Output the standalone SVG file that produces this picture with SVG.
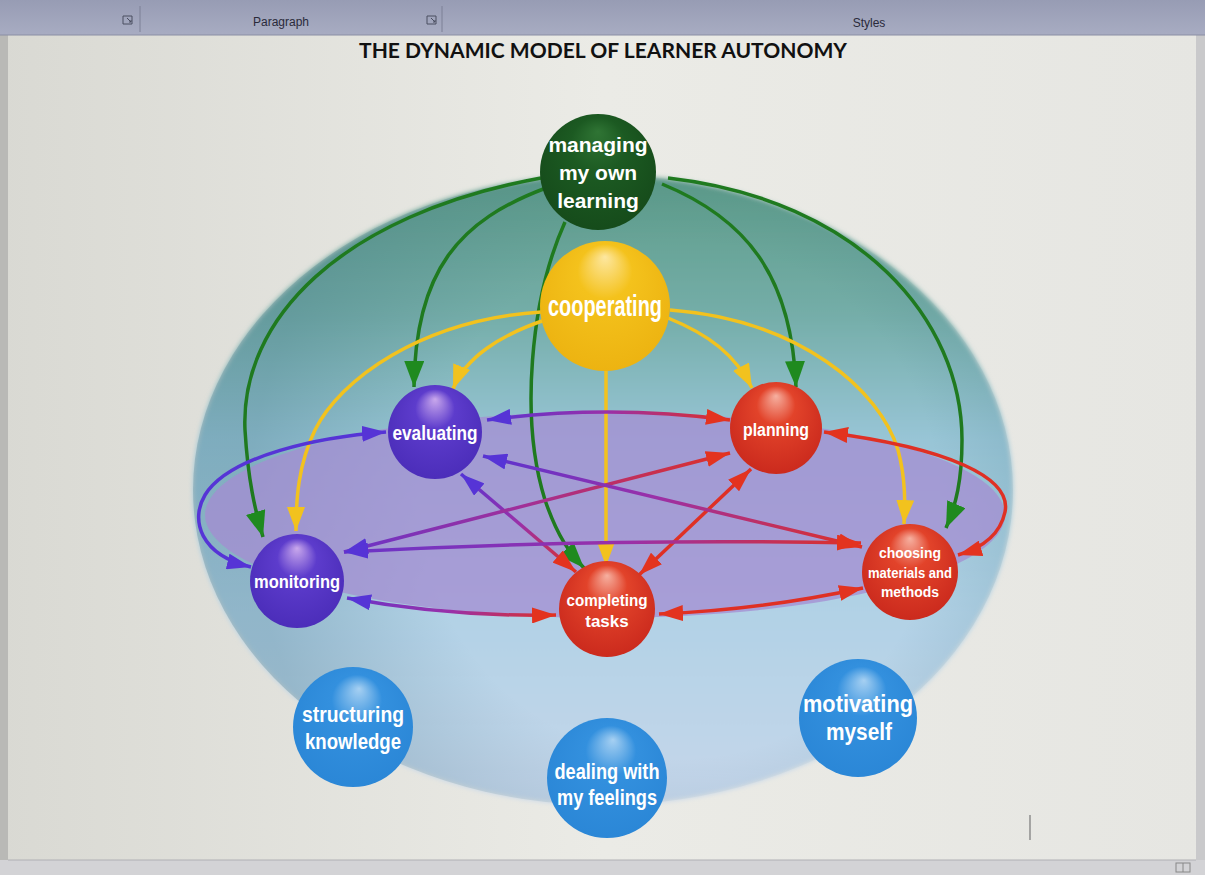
<svg xmlns="http://www.w3.org/2000/svg" width="1205" height="875" viewBox="0 0 1205 875">
<defs>
<style>
.lbl{font-family:"Liberation Sans",Arial,sans-serif;font-weight:bold;fill:#ffffff;text-anchor:middle}
.tb{font-family:"Liberation Sans",Arial,sans-serif;font-size:12px;fill:#2a2a3a;text-anchor:middle}
.g{fill:none;stroke:#1f7a1f;stroke-width:3.5}
.y{fill:none;stroke:#f2c21e;stroke-width:3.5}
.pr{fill:none;stroke-width:3.5}
</style>
<linearGradient id="pageBg" x1="0" y1="0" x2="1" y2="0">
<stop offset="0" stop-color="#d9d9d3"/><stop offset="0.5" stop-color="#ebebe6"/><stop offset="1" stop-color="#e6e6e2"/>
</linearGradient>
<linearGradient id="tbar" x1="0" y1="0" x2="0" y2="1">
<stop offset="0" stop-color="#979cb4"/><stop offset="1" stop-color="#a8acc2"/>
</linearGradient>
<linearGradient id="bigFill" gradientUnits="userSpaceOnUse" x1="0" y1="175" x2="0" y2="805">
<stop offset="0" stop-color="#5d9c88"/><stop offset="0.22" stop-color="#74ada8"/><stop offset="0.42" stop-color="#98c5d6"/><stop offset="0.7" stop-color="#b2d2e6"/><stop offset="1" stop-color="#c6d6ea"/>
</linearGradient>
<radialGradient id="bigShade" gradientUnits="userSpaceOnUse" cx="680" cy="500" r="430">
<stop offset="0.6" stop-color="#3c6e80" stop-opacity="0"/><stop offset="1" stop-color="#3c6e80" stop-opacity="0.28"/>
</radialGradient>
<filter id="soft" x="-5%" y="-5%" width="110%" height="110%"><feGaussianBlur stdDeviation="2.5"/></filter>
<radialGradient id="sRed" cx="50%" cy="45%" r="60%" fx="50%" fy="15%">
<stop offset="0" stop-color="#f6b0a0"/><stop offset="0.35" stop-color="#e2432a"/><stop offset="1" stop-color="#c9281c"/>
</radialGradient>
<radialGradient id="sPur" cx="50%" cy="45%" r="60%" fx="50%" fy="15%">
<stop offset="0" stop-color="#c9a8ec"/><stop offset="0.35" stop-color="#5d3ccc"/><stop offset="1" stop-color="#4a2cb8"/>
</radialGradient>
<radialGradient id="sYel" cx="50%" cy="45%" r="60%" fx="50%" fy="12%">
<stop offset="0" stop-color="#fde7a0"/><stop offset="0.35" stop-color="#f4c21c"/><stop offset="1" stop-color="#ecb210"/>
</radialGradient>
<radialGradient id="sGrn" cx="50%" cy="45%" r="60%" fx="50%" fy="15%">
<stop offset="0" stop-color="#2f7434"/><stop offset="0.4" stop-color="#1c5a22"/><stop offset="1" stop-color="#154a1a"/>
</radialGradient>
<radialGradient id="sBlu" cx="50%" cy="45%" r="60%" fx="55%" fy="18%">
<stop offset="0" stop-color="#a6d0f2"/><stop offset="0.35" stop-color="#3390de"/><stop offset="1" stop-color="#2a86d6"/>
</radialGradient>
<linearGradient id="gP1" gradientUnits="userSpaceOnUse" x1="485" y1="420" x2="730" y2="420"><stop offset="0" stop-color="#5a34d0"/><stop offset="0.5" stop-color="#9a30a8"/><stop offset="1" stop-color="#df3024"/></linearGradient>
<linearGradient id="gP4" gradientUnits="userSpaceOnUse" x1="345" y1="600" x2="558" y2="612"><stop offset="0" stop-color="#6a34c8"/><stop offset="0.5" stop-color="#9a30a8"/><stop offset="1" stop-color="#df3024"/></linearGradient>
<linearGradient id="gD1" gradientUnits="userSpaceOnUse" x1="462" y1="476" x2="578" y2="570"><stop offset="0" stop-color="#5a34d0"/><stop offset="0.5" stop-color="#9a30a8"/><stop offset="1" stop-color="#df3024"/></linearGradient>
<linearGradient id="gD3" gradientUnits="userSpaceOnUse" x1="345" y1="550" x2="730" y2="452"><stop offset="0" stop-color="#6a34c8"/><stop offset="0.45" stop-color="#a02f9a"/><stop offset="1" stop-color="#df3024"/></linearGradient>
<linearGradient id="gD4" gradientUnits="userSpaceOnUse" x1="484" y1="456" x2="862" y2="548"><stop offset="0" stop-color="#5a34d0"/><stop offset="0.45" stop-color="#9a30a8"/><stop offset="1" stop-color="#df3024"/></linearGradient>
<linearGradient id="gD5" gradientUnits="userSpaceOnUse" x1="345" y1="550" x2="862" y2="543"><stop offset="0" stop-color="#6a34c8"/><stop offset="0.55" stop-color="#9a30a8"/><stop offset="1" stop-color="#df3024"/></linearGradient>
<marker id="aG" markerUnits="userSpaceOnUse" markerWidth="26" markerHeight="20" refX="26" refY="10" orient="auto"><path d="M0,0 L26,10 L0,20 z" fill="#1f8a1f"/></marker>
<marker id="aY" markerUnits="userSpaceOnUse" markerWidth="24" markerHeight="18" refX="24" refY="9" orient="auto"><path d="M0,0 L24,9 L0,18 z" fill="#f2c21e"/></marker>
<marker id="aR" markerUnits="userSpaceOnUse" markerWidth="24" markerHeight="16" refX="24" refY="8" orient="auto-start-reverse"><path d="M0,0 L24,8 L0,16 z" fill="#e3331f"/></marker>
<marker id="aP" markerUnits="userSpaceOnUse" markerWidth="24" markerHeight="16" refX="24" refY="8" orient="auto-start-reverse"><path d="M0,0 L24,8 L0,16 z" fill="#5634d6"/></marker>
</defs>

<!-- page background -->
<rect x="0" y="0" width="1205" height="875" fill="url(#pageBg)"/>
<rect x="0" y="0" width="8" height="875" fill="#b9b9b6"/>
<rect x="1196" y="30" width="9" height="845" fill="#c9c9cb"/>
<rect x="0" y="860" width="1205" height="15" fill="#d3d3d6"/>
<line x1="8" y1="860" x2="1196" y2="860" stroke="#b0b0b4" stroke-width="1"/>
<rect x="1176" y="863" width="14" height="9" fill="none" stroke="#888" stroke-width="1"/>
<line x1="1183" y1="863" x2="1183" y2="872" stroke="#888" stroke-width="1"/>

<!-- toolbar -->
<g id="toolbar">
<rect x="0" y="0" width="1205" height="35" fill="url(#tbar)"/>
<line x1="0" y1="35" x2="1205" y2="35" stroke="#8a8ea4" stroke-width="1"/>
<line x1="140" y1="6" x2="140" y2="32" stroke="#7c8096" stroke-width="1"/>
<line x1="442" y1="6" x2="442" y2="32" stroke="#7c8096" stroke-width="1"/>
<path d="M123,16 h9 v8 h-9 z M127,18 l4,4 M131,20 v2 h-2" fill="none" stroke="#4a4e60" stroke-width="1"/>
<path d="M427,16 h9 v8 h-9 z M431,18 l4,4 M435,20 v2 h-2" fill="none" stroke="#4a4e60" stroke-width="1"/>
<text class="tb" x="281" y="26">Paragraph</text>
<text class="tb" x="869" y="27">Styles</text>
</g>

<text x="603" y="58" font-family="Lato,'Liberation Sans',sans-serif" font-weight="bold" font-size="21" fill="#111" text-anchor="middle" textLength="488" lengthAdjust="spacingAndGlyphs">THE DYNAMIC MODEL OF LEARNER AUTONOMY</text>

<!-- big ellipse -->
<g id="sphere">
<ellipse cx="603" cy="490" rx="410" ry="315" fill="url(#bigFill)" filter="url(#soft)"/>
<ellipse cx="603" cy="490" rx="410" ry="315" fill="url(#bigShade)"/>
<ellipse cx="605" cy="515" rx="400" ry="103" fill="#a48cd2" fill-opacity="0.75"/>
</g>

<line x1="1030" y1="815" x2="1030" y2="840" stroke="#777" stroke-width="1.2"/>

<!-- connectors -->
<g id="connectors">
<!-- green from managing -->
<path class="g" d="M541,178 C340,215 240,320 245,430 C248,480 255,510 263,537" marker-end="url(#aG)"/>
<path class="g" d="M546,188 C460,220 415,270 414,387" marker-end="url(#aG)"/>
<path class="g" d="M565,222 C530,300 520,420 545,500 C558,538 570,553 584,568" marker-end="url(#aG)"/>
<path class="g" d="M662,184 C750,220 792,280 796,387" marker-end="url(#aG)"/>
<path class="g" d="M668,178 C860,200 962,320 962,440 C962,480 956,505 946,528" marker-end="url(#aG)"/>
<!-- yellow from cooperating -->
<path class="y" d="M541,312 C420,320 340,380 315,430 C298,465 296,500 296,531" marker-end="url(#aY)"/>
<path class="y" d="M545,320 C500,335 465,358 453,389" marker-end="url(#aY)"/>
<path class="y" d="M606,370 L606,566" marker-end="url(#aY)"/>
<path class="y" d="M668,318 C710,335 735,355 752,388" marker-end="url(#aY)"/>
<path class="y" d="M670,310 C800,320 880,390 898,450 C906,480 905,505 904,524" marker-end="url(#aY)"/>
<!-- pentagon ring -->
<path class="pr" stroke="url(#gP1)" d="M487,420 Q607,404 730,420" marker-start="url(#aP)" marker-end="url(#aR)"/>
<path class="pr" stroke="#df3024" d="M824,432 C950,448 1012,478 1005,512 C1000,535 982,548 958,555" marker-start="url(#aR)" marker-end="url(#aR)"/>
<path class="pr" stroke="#df3024" d="M863,588 Q760,610 659,614" marker-start="url(#aR)" marker-end="url(#aR)"/>
<path class="pr" stroke="url(#gP4)" d="M556,615 Q450,617 347,598" marker-start="url(#aR)" marker-end="url(#aP)"/>
<path class="pr" stroke="#5634d6" d="M251,567 C200,555 190,520 205,495 C230,455 320,437 386,432" marker-start="url(#aP)" marker-end="url(#aP)"/>
<!-- diagonals -->
<path class="pr" stroke="url(#gD1)" d="M461,474 L576,572" marker-start="url(#aP)" marker-end="url(#aR)"/>
<path class="pr" stroke="#df3024" d="M751,469 L639,575" marker-start="url(#aR)" marker-end="url(#aR)"/>
<path class="pr" stroke="url(#gD3)" d="M730,453 L344,552" marker-start="url(#aR)" marker-end="url(#aP)"/>
<path class="pr" stroke="url(#gD4)" d="M483,456 L862,547" marker-start="url(#aP)" marker-end="url(#aR)"/>
<path class="pr" stroke="url(#gD5)" d="M344,552 Q600,538 861,543" marker-start="url(#aP)" marker-end="url(#aR)"/>
</g>

<!-- nodes -->
<g id="managing">
<circle cx="598" cy="172" r="58" fill="url(#sGrn)"/>
<text class="lbl" font-size="21" x="598" y="152">managing</text>
<text class="lbl" font-size="21" x="598" y="180">my own</text>
<text class="lbl" font-size="21" x="598" y="208">learning</text>
</g>
<g id="cooperating">
<circle cx="605" cy="306" r="65" fill="url(#sYel)"/>
<text class="lbl" font-size="30" x="605" y="316" textLength="114" lengthAdjust="spacingAndGlyphs">cooperating</text>
</g>
<g id="evaluating">
<circle cx="435" cy="432" r="47" fill="url(#sPur)"/>
<text class="lbl" font-size="20" x="435" y="440" textLength="85" lengthAdjust="spacingAndGlyphs">evaluating</text>
</g>
<g id="planning">
<circle cx="776" cy="428" r="46" fill="url(#sRed)"/>
<text class="lbl" font-size="18" x="776" y="436" textLength="66" lengthAdjust="spacingAndGlyphs">planning</text>
</g>
<g id="monitoring">
<circle cx="297" cy="581" r="47" fill="url(#sPur)"/>
<text class="lbl" font-size="19" x="297" y="588" textLength="86" lengthAdjust="spacingAndGlyphs">monitoring</text>
</g>
<g id="completing">
<circle cx="607" cy="609" r="48" fill="url(#sRed)"/>
<text class="lbl" font-size="17" x="607" y="606" textLength="81" lengthAdjust="spacingAndGlyphs">completing</text>
<text class="lbl" font-size="17" x="607" y="627">tasks</text>
</g>
<g id="choosing">
<circle cx="910" cy="572" r="48" fill="url(#sRed)"/>
<text class="lbl" font-size="14" x="910" y="558" textLength="62" lengthAdjust="spacingAndGlyphs">choosing</text>
<text class="lbl" font-size="14" x="910" y="578" textLength="84" lengthAdjust="spacingAndGlyphs">materials and</text>
<text class="lbl" font-size="14" x="910" y="597" textLength="58" lengthAdjust="spacingAndGlyphs">methods</text>
</g>
<g id="structuring">
<circle cx="353" cy="727" r="60" fill="url(#sBlu)"/>
<text class="lbl" font-size="22" x="353" y="722" textLength="102" lengthAdjust="spacingAndGlyphs">structuring</text>
<text class="lbl" font-size="22" x="353" y="749" textLength="96" lengthAdjust="spacingAndGlyphs">knowledge</text>
</g>
<g id="dealing">
<circle cx="607" cy="778" r="60" fill="url(#sBlu)"/>
<text class="lbl" font-size="22" x="607" y="779" textLength="105" lengthAdjust="spacingAndGlyphs">dealing with</text>
<text class="lbl" font-size="22" x="607" y="805" textLength="100" lengthAdjust="spacingAndGlyphs">my feelings</text>
</g>
<g id="motivating">
<circle cx="858" cy="718" r="59" fill="url(#sBlu)"/>
<text class="lbl" font-size="24" x="858" y="712" textLength="110" lengthAdjust="spacingAndGlyphs">motivating</text>
<text class="lbl" font-size="24" x="859" y="740" textLength="66" lengthAdjust="spacingAndGlyphs">myself</text>
</g>
</svg>
